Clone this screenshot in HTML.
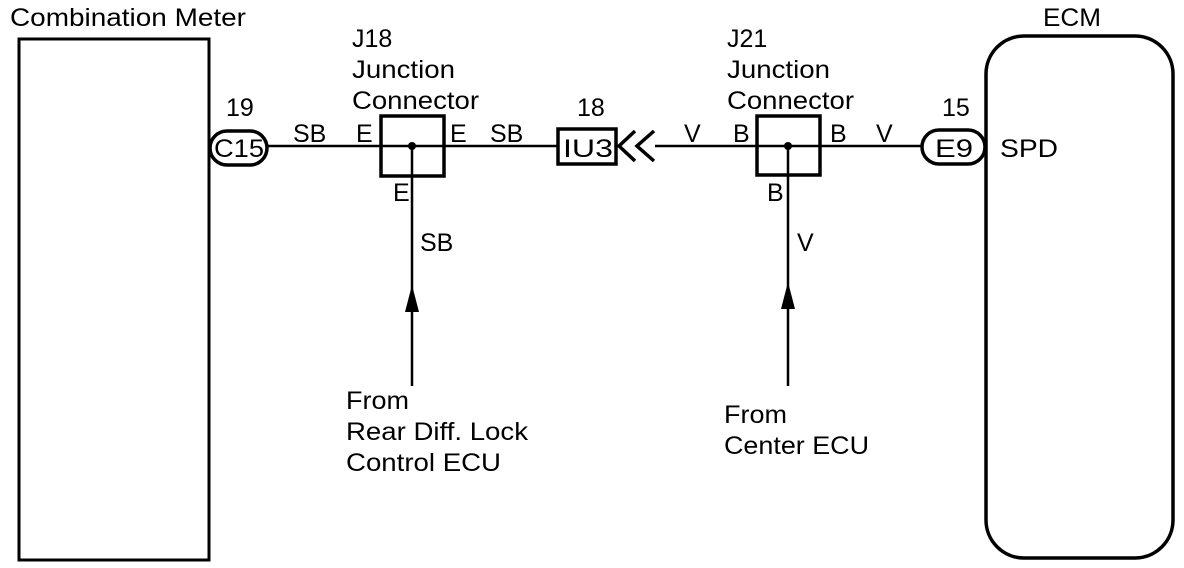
<!DOCTYPE html>
<html><head><style>html,body{margin:0;padding:0;background:#fff;}svg{display:block}</style></head>
<body>
<svg width="1184" height="568" viewBox="0 0 1184 568" xmlns="http://www.w3.org/2000/svg" font-family="Liberation Sans, sans-serif" font-size="25" fill="#000">
<g fill="none" stroke="#000">
<rect x="19" y="39" width="190" height="521" stroke-width="3"/>
<rect x="986" y="36" width="187" height="522" rx="38" stroke-width="3.5"/>
<line x1="268" y1="146" x2="558" y2="146" stroke-width="2.5"/>
<line x1="655" y1="146" x2="922" y2="146" stroke-width="2.5"/>
<rect x="381" y="116" width="63" height="60" stroke-width="3.5"/>
<rect x="757" y="116" width="63" height="59" stroke-width="3.5"/>
<rect x="558" y="129" width="58" height="35" stroke-width="3.5"/>
<rect x="210" y="131" width="57" height="34" rx="17" stroke-width="3.5"/>
<rect x="922" y="130" width="63" height="34" rx="17" stroke-width="3.5"/>
<line x1="412" y1="146" x2="412" y2="386" stroke-width="2.5"/>
<line x1="788" y1="146" x2="788" y2="386" stroke-width="2.5"/>
<polyline points="635,131 619,146 635,161" stroke-width="3.5"/>
<polyline points="654,131 637,146 654,161" stroke-width="3.5"/>
</g>
<circle cx="412" cy="146" r="4"/>
<circle cx="788" cy="146" r="4"/>
<polygon points="412,285 405,312 419,312"/>
<polygon points="788,282 781,309 795,309"/>
<text x="10" y="26" textLength="236" lengthAdjust="spacingAndGlyphs">Combination Meter</text>
<text x="1043" y="26" textLength="58" lengthAdjust="spacingAndGlyphs">ECM</text>
<text x="226" y="116">19</text>
<text x="214" y="157" textLength="50" lengthAdjust="spacingAndGlyphs">C15</text>
<text x="293" y="142">SB</text>
<text x="356" y="142">E</text>
<text x="352" y="47">J18</text>
<text x="352" y="78" textLength="103" lengthAdjust="spacingAndGlyphs">Junction</text>
<text x="352" y="109" textLength="127" lengthAdjust="spacingAndGlyphs">Connector</text>
<text x="450" y="142">E</text>
<text x="490" y="142">SB</text>
<text x="393" y="201">E</text>
<text x="420" y="251">SB</text>
<text x="577" y="116">18</text>
<text x="563" y="157" textLength="50" lengthAdjust="spacingAndGlyphs">IU3</text>
<text x="684" y="142">V</text>
<text x="733" y="142">B</text>
<text x="727" y="47">J21</text>
<text x="727" y="78" textLength="103" lengthAdjust="spacingAndGlyphs">Junction</text>
<text x="727" y="109" textLength="127" lengthAdjust="spacingAndGlyphs">Connector</text>
<text x="830" y="142">B</text>
<text x="876" y="142">V</text>
<text x="767" y="201">B</text>
<text x="797" y="251">V</text>
<text x="942" y="116">15</text>
<text x="935" y="157" textLength="38" lengthAdjust="spacingAndGlyphs">E9</text>
<text x="1000" y="157" textLength="58" lengthAdjust="spacingAndGlyphs">SPD</text>
<text x="346" y="409" textLength="63" lengthAdjust="spacingAndGlyphs">From</text>
<text x="346" y="440" textLength="182" lengthAdjust="spacingAndGlyphs">Rear Diff. Lock</text>
<text x="346" y="471" textLength="155" lengthAdjust="spacingAndGlyphs">Control ECU</text>
<text x="724" y="423" textLength="63" lengthAdjust="spacingAndGlyphs">From</text>
<text x="724" y="454" textLength="145" lengthAdjust="spacingAndGlyphs">Center ECU</text>
</svg>
</body></html>
